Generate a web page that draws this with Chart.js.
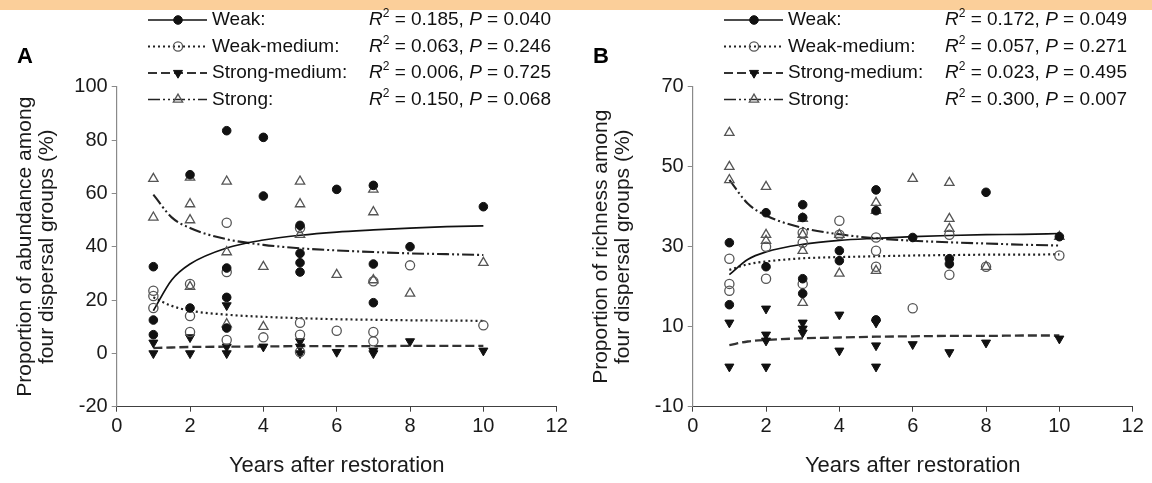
<!DOCTYPE html>
<html><head><meta charset="utf-8">
<script src="https://cdn.jsdelivr.net/npm/chart.js@4.4.1/dist/chart.umd.min.js"></script>
<style>
html,body{margin:0;padding:0;background:#fff;width:1152px;height:483px;overflow:hidden}
#band{position:absolute;left:0;top:0;width:1152px;height:10px;background:#FBCF9A}
.panel{position:absolute;top:0;width:576px;height:483px}
canvas{display:block}
</style></head><body>
<div id="band"></div>
<div class="panel" style="left:0"><canvas id="cA" width="576" height="483"></canvas></div>
<div class="panel" style="left:576px"><canvas id="cB" width="576" height="483"></canvas></div>
<script>
// ---------- DATA ----------
const seriesNames = ['Weak:', 'Weak-medium:', 'Strong-medium:', 'Strong:'];
const xTicks = [0, 2, 4, 6, 8, 10, 12];

// Panel A: proportion of abundance (%)
const weakA_x = [1,1,1, 2,2, 3,3,3,3, 4,4, 5,5,5,5, 6, 7,7,7, 8, 10];
const weakA_y = [32.5,12.5,7, 67,17, 83.5,32,21,9.5, 81,59, 48,37.5,34,30.5, 61.5, 63,33.5,19, 40, 55];
const weakMedA_x = [1,1,1, 2,2,2, 3,3,3, 4, 5,5,5,5, 6, 7,7,7, 8, 10];
const weakMedA_y = [23.5,21.5,17, 26,14,8, 49,30.5,5, 6, 47,11.5,7,0.5, 8.5, 27,8,4.5, 33, 10.5];
const strongMedA_x = [1,1, 2,2, 3,3,3, 4, 5,5,5, 6, 7,7, 8, 10];
const strongMedA_y = [4,0, 6,0, 18,2.5,0, 2.5, 4.5,2.5,0, 0.5, 1,0, 4.5, 1];
const strongA_x = [1,1, 2,2,2,2, 3,3,3, 4,4, 5,5,5, 6, 7,7,7, 8, 10];
const strongA_y = [65.5,51, 66,56,50,25, 64.5,38,11, 32.5,10, 64.5,56,44.5, 29.5, 61.5,53,27.5, 22.5, 34];

// Panel B: proportion of richness (%)
const weakB_x = [1,1, 2,2, 3,3,3,3, 4,4, 5,5,5, 6, 7,7, 8, 10];
const weakB_y = [31,15.5, 38.5,25, 40.5,37.3,22,18.3, 29,26.5, 44.2,39,11.7, 32.3, 27,25.7, 43.6, 32.5];
const weakMedB_x = [1,1,1, 2,2, 3,3,3, 4,4, 5,5,5, 6, 7,7, 8, 10];
const weakMedB_y = [27,20.7,19, 30,22, 33.5,31,20.7, 36.5,33, 32.3,29,25, 14.6, 33,23, 25, 27.8];
const strongMedB_x = [1,1, 2,2,2,2, 3,3,3, 4,4, 5,5,5, 6, 7, 8, 10];
const strongMedB_y = [11,0, 14.5,8,6.5,0, 11,9.5,8.5, 13,4, 11,5.3,0, 5.6, 3.6, 6, 7];
const strongB_x = [1,1,1, 2,2,2, 3,3,3,3, 4,4, 5,5,5, 6, 7,7,7, 8, 10];
const strongB_y = [58.5,50,46.7, 45,33,31.5, 37,33,29,16, 33,23.3, 41,39,24, 47, 46,37,34.5, 25, 32.5];

// Fitted curves
const curveX = [1, 1.5, 2, 3, 4, 5, 6, 7, 8, 9, 10];
const fitWeakA = [16, 27.5, 33.5, 39.5, 42.5, 44.3, 45.5, 46.3, 47, 47.5, 47.8];
const fitWeakMedA = [21, 17.8, 16, 14.5, 13.7, 13.2, 12.8, 12.6, 12.4, 12.3, 12.2];
const fitStrongMedA = [2, 2.2, 2.4, 2.5, 2.6, 2.7, 2.7, 2.7, 2.8, 2.8, 2.8];
const fitStrongA = [59.5, 51, 47, 42.8, 40.7, 39.4, 38.6, 38, 37.5, 37.2, 36.9];
const fitWeakB = [23, 26.8, 28.7, 30.6, 31.6, 32.1, 32.5, 32.8, 33, 33.1, 33.3];
const fitWeakMedB = [24.2, 25.6, 26.3, 27.1, 27.4, 27.6, 27.8, 27.9, 28, 28, 28.1];
const fitStrongMedB = [5.4, 6.3, 6.7, 7.1, 7.3, 7.5, 7.6, 7.7, 7.7, 7.8, 7.8];
const fitStrongB = [46.7, 40.8, 37.8, 34.7, 33.1, 32.1, 31.5, 31.1, 30.8, 30.5, 30.3];

// Statistics
const r2A = ['0.185', '0.063', '0.006', '0.150'];
const pA = ['0.040', '0.246', '0.725', '0.068'];
const r2B = ['0.172', '0.057', '0.023', '0.300'];
const pB = ['0.049', '0.271', '0.495', '0.007'];

// Axis ranges / titles
const yTicksA = [-20, 0, 20, 40, 60, 80, 100];
const yTicksB = [-10, 10, 30, 50, 70];
const yTitleA = ['Proportion of abundance among', 'four dispersal groups (%)'];
const yTitleB = ['Proportion of richness among', 'four dispersal groups (%)'];
const xTitle = 'Years after restoration';

// ---------- STYLE ----------
const FONT = "Arial, 'Liberation Sans', Helvetica, sans-serif";
Chart.defaults.font.family = FONT;
Chart.defaults.color = '#1a1a1a';

const styles = [
  {ps:'circle', r:4.3, fill:'#111', stroke:'#111', bw:1, rot:0, line:'#111', width:1.7, dash:[]},
  {ps:'circle', r:4.6, fill:'rgba(255,255,255,0)', stroke:'#555', bw:1.3, rot:0, line:'#222', width:2.2, dash:[2,3]},
  {ps:'triangle', r:5.2, fill:'#111', stroke:'#111', bw:1, rot:180, line:'#333', width:2.3, dash:[9,4]},
  {ps:'triangle', r:5.4, fill:'rgba(255,255,255,0)', stroke:'#555', bw:1.3, rot:0, line:'#222', width:2.1, dash:[12,3,2,3,2,3]}
];

function pts(xs, ys) { return xs.map((x, i) => ({x: x, y: ys[i]})); }

function buildDatasets(points, fits) {
  const ds = [];
  fits.forEach((f, i) => {
    const st = styles[i];
    ds.push({type:'line', data: pts(curveX, f), showLine:true, pointRadius:0, borderColor: st.line,
      borderWidth: st.width, borderDash: st.dash, cubicInterpolationMode:'monotone', fill:false, order: 2});
  });
  points.forEach((p, i) => {
    const st = styles[i];
    ds.push({type:'scatter', data: pts(p[0], p[1]), showLine:false, pointStyle: st.ps, pointRadius: st.r,
      pointRotation: st.rot, pointBackgroundColor: st.fill, pointBorderColor: st.stroke, pointBorderWidth: st.bw, order: 1});
  });
  return ds;
}

function drawMarker(ctx, st, x, y) {
  ctx.save();
  ctx.fillStyle = st.fill; ctx.strokeStyle = st.stroke; ctx.lineWidth = st.bw; ctx.setLineDash([]);
  ctx.beginPath();
  if (st.ps === 'circle') {
    ctx.arc(x, y, st.r, 0, Math.PI * 2);
  } else {
    let rad = st.rot * Math.PI / 180;
    ctx.moveTo(x + Math.sin(rad) * st.r, y - Math.cos(rad) * st.r);
    rad += 2 * Math.PI / 3;
    ctx.lineTo(x + Math.sin(rad) * st.r, y - Math.cos(rad) * st.r);
    rad += 2 * Math.PI / 3;
    ctx.lineTo(x + Math.sin(rad) * st.r, y - Math.cos(rad) * st.r);
    ctx.closePath();
  }
  ctx.fill(); ctx.stroke();
  ctx.restore();
}

const rowY = [20, 46.5, 73, 99.5];
const overlay = {
  id: 'overlay',
  afterDraw(chart, args, opts) {
    const ctx = chart.ctx;
    ctx.save();
    ctx.font = 'bold 22px ' + FONT; ctx.fillStyle = '#000';
    ctx.textAlign = 'center'; ctx.textBaseline = 'middle';
    ctx.fillText(opts.letter, 25, 57);
    for (let i = 0; i < 4; i++) {
      const y = rowY[i], st = styles[i];
      ctx.strokeStyle = st.line; ctx.lineWidth = st.width - 0.4; ctx.setLineDash(st.dash);
      ctx.beginPath(); ctx.moveTo(148, y); ctx.lineTo(207, y); ctx.stroke();
      ctx.setLineDash([]);
      drawMarker(ctx, st, 178, y);
      ctx.fillStyle = '#111'; ctx.textAlign = 'left'; ctx.textBaseline = 'middle';
      ctx.font = '19px ' + FONT;
      ctx.fillText(seriesNames[i], 212, y);
      const parts = [
        {t:'R', f:'italic 19px ' + FONT, dy:0},
        {t:'2', f:'12px ' + FONT, dy:-6},
        {t:' = ' + opts.r2[i] + ', ', f:'19px ' + FONT, dy:0},
        {t:'P', f:'italic 19px ' + FONT, dy:0},
        {t:' = ' + opts.p[i], f:'19px ' + FONT, dy:0}
      ];
      let total = 0;
      parts.forEach(p => { ctx.font = p.f; p.w = ctx.measureText(p.t).width; total += p.w; });
      let x = 551 - total;
      parts.forEach(p => { ctx.font = p.f; ctx.fillText(p.t, x, y + p.dy); x += p.w; });
    }
    ctx.restore();
  }
};

function makeChart(id, points, fits, yTicks, yTitle, letter, r2, p) {
  const yMin = yTicks[0], yMax = yTicks[yTicks.length - 1];
  return new Chart(document.getElementById(id), {
    type: 'scatter',
    data: {datasets: buildDatasets(points, fits)},
    options: {
      responsive: false, animation: false, devicePixelRatio: 1,
      layout: {padding: {top: 86.7, left: 0, right: 19.3, bottom: 0}},
      plugins: {legend: {display: false}, tooltip: {enabled: false},
        overlay: {letter: letter, r2: r2, p: p}},
      scales: {
        x: {type: 'linear', min: xTicks[0], max: xTicks[xTicks.length - 1],
          afterFit(s) { s.height = 76.3; },
          afterBuildTicks(s) { s.ticks = xTicks.map(v => ({value: v})); },
          ticks: {font: {size: 20}, color: '#1a1a1a', padding: 3, maxRotation: 0},
          grid: {display: true, drawOnChartArea: false, drawTicks: true, tickLength: 5, color: '#404040'},
          border: {display: true, color: '#404040', width: 1},
          title: {display: true, text: xTitle, font: {size: 22}, color: '#1a1a1a', padding: {top: 0, bottom: 4}}
        },
        y: {type: 'linear', min: yMin, max: yMax,
          afterFit(s) { s.width = 116.7; },
          afterBuildTicks(s) { s.ticks = yTicks.map(v => ({value: v})); },
          ticks: {font: {size: 20}, color: '#1a1a1a', padding: 4},
          grid: {display: true, drawOnChartArea: false, drawTicks: true, tickLength: 5, color: '#8a8a8a'},
          border: {display: true, color: '#8a8a8a', width: 1.2},
          title: {display: true, text: yTitle, font: {size: 21, lineHeight: 1.05}, color: '#1a1a1a', padding: {top: 14, bottom: 0}}
        }
      }
    },
    plugins: [overlay]
  });
}

makeChart('cA',
  [[weakA_x, weakA_y], [weakMedA_x, weakMedA_y], [strongMedA_x, strongMedA_y], [strongA_x, strongA_y]],
  [fitWeakA, fitWeakMedA, fitStrongMedA, fitStrongA], yTicksA, yTitleA, 'A', r2A, pA);
makeChart('cB',
  [[weakB_x, weakB_y], [weakMedB_x, weakMedB_y], [strongMedB_x, strongMedB_y], [strongB_x, strongB_y]],
  [fitWeakB, fitWeakMedB, fitStrongMedB, fitStrongB], yTicksB, yTitleB, 'B', r2B, pB);
</script>
</body></html>
